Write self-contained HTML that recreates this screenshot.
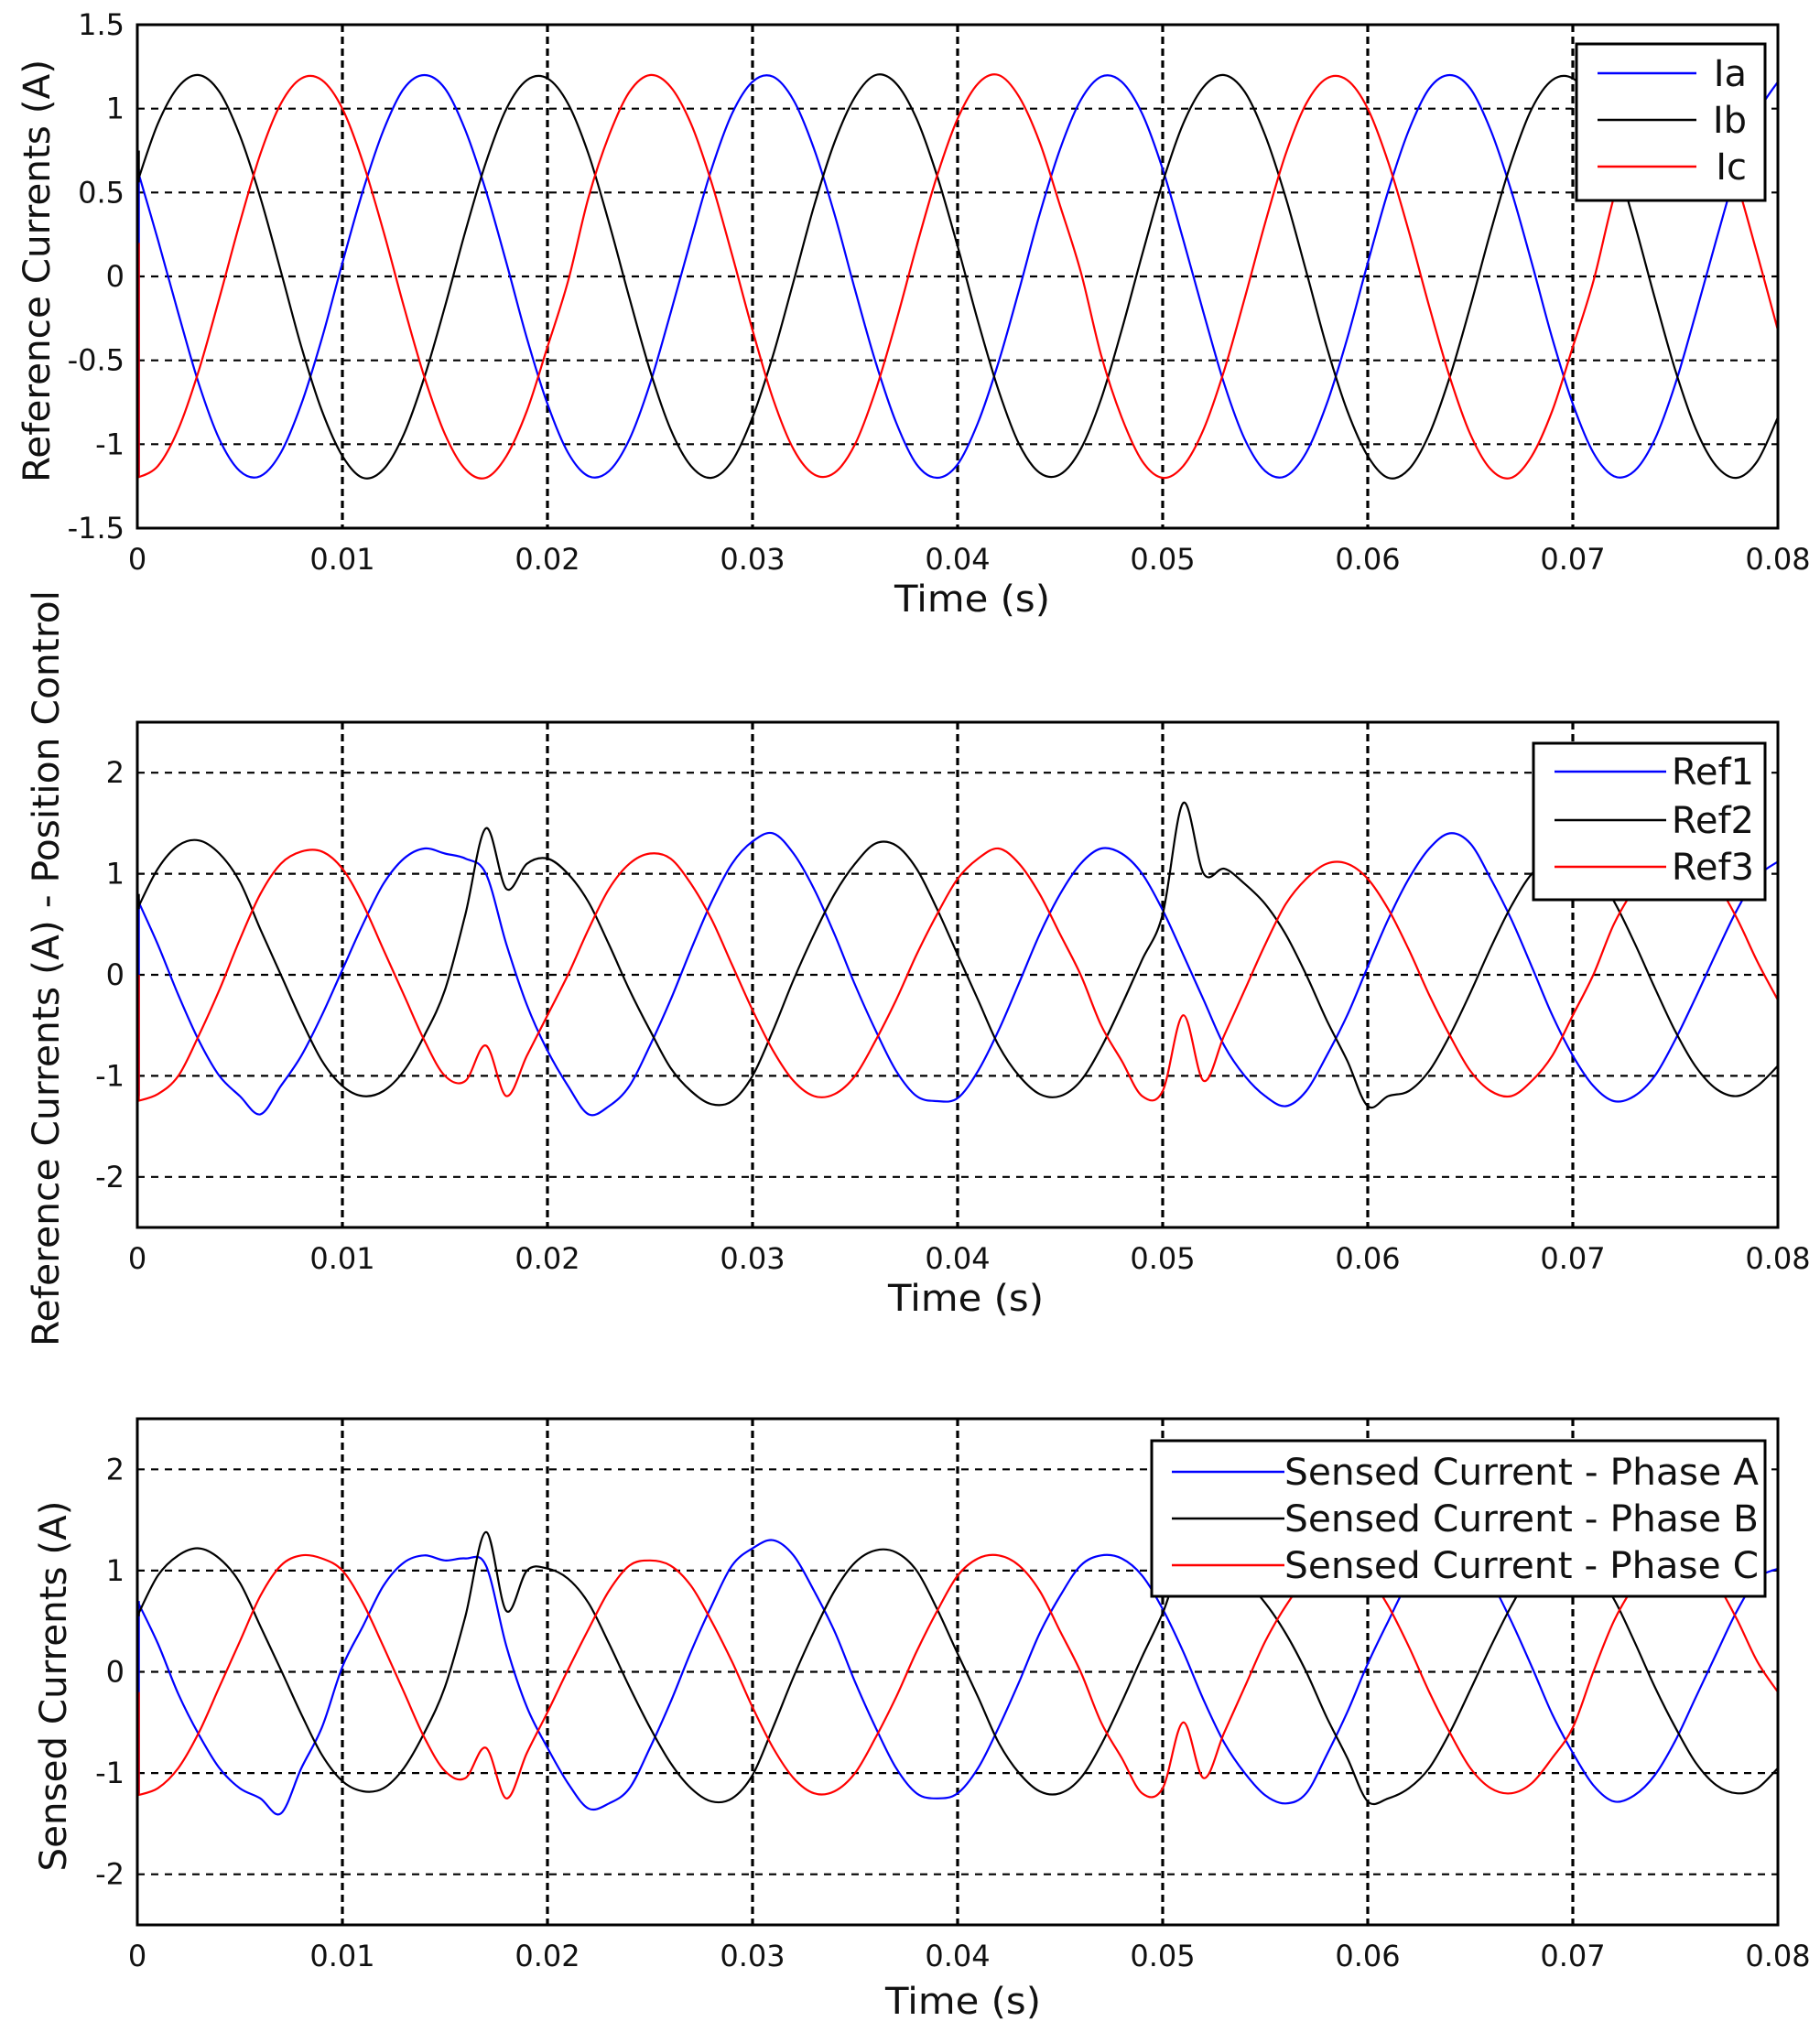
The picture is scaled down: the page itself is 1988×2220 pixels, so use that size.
<!DOCTYPE html>
<html><head><meta charset="utf-8"><title>Reference and sensed currents</title>
<style>
html,body{margin:0;padding:0;background:#fff;}
svg{display:block;}
text{font-family:"DejaVu Sans","Liberation Sans",sans-serif;fill:#111;}
</style></head>
<body>
<svg id="fig" xmlns="http://www.w3.org/2000/svg" width="1988" height="2220" viewBox="0 0 1988 2220"></svg>
<script>
// shared sample times (ms), 1 ms step
const timeMs = [0,1,2,3,4,5,6,7,8,9,10,11,12,13,14,15,16,17,18,19,20,21,22,23,24,25,26,27,28,29,30,31,32,33,34,35,36,37,38,39,40,41,42,43,44,45,46,47,48,49,50,51,52,53,54,55,56,57,58,59,60,61,62,63,64,65,66,67,68,69,70,71,72,73,74,75,76,77,78,79,80];
const xTickLabels = ["0","0.01","0.02","0.03","0.04","0.05","0.06","0.07","0.08"];
const xTickValues = [0,0.01,0.02,0.03,0.04,0.05,0.06,0.07,0.08];
const yTicksTop = [1.5,1,0.5,0,-0.5,-1,-1.5];
const yTicksMid = [2,1,0,-1,-2];

// Panel 1: reference currents
const ia = [0.64,0.22,-0.22,-0.64,-0.97,-1.16,-1.19,-1.05,-0.76,-0.37,0.08,0.51,0.87,1.12,1.20,1.12,0.87,0.51,0.08,-0.37,-0.76,-1.05,-1.19,-1.16,-0.97,
 -0.64,-0.22,0.22,0.64,0.97,1.16,1.19,1.05,0.76,0.37,-0.08,-0.51,-0.87,-1.12,-1.20,-1.12,-0.87,-0.51,-0.08,0.37,0.76,1.05,1.19,1.16,0.97,
 0.64,0.22,-0.22,-0.64,-0.97,-1.16,-1.19,-1.05,-0.76,-0.37,0.08,0.51,0.87,1.12,1.20,1.12,0.87,0.51,0.08,-0.37,-0.76,-1.05,-1.19,-1.16,-0.97,
 -0.64,-0.22,0.22,0.64,0.97,1.16];
const ib = [0.56,0.91,1.13,1.20,1.10,0.84,0.47,0.03,-0.42,-0.80,-1.07,-1.20,-1.15,-0.94,-0.60,-0.18,0.27,0.68,1.00,1.17,1.18,1.03,0.73,0.32,-0.13,
 -0.56,-0.91,-1.13,-1.20,-1.10,-0.84,-0.47,-0.03,0.42,0.80,1.07,1.20,1.15,0.94,0.60,0.18,-0.27,-0.68,-1.00,-1.17,-1.18,-1.03,-0.73,-0.32,0.13,
 0.56,0.91,1.13,1.20,1.10,0.84,0.47,0.03,-0.42,-0.80,-1.07,-1.20,-1.15,-0.94,-0.60,-0.18,0.27,0.68,1.00,1.17,1.18,1.03,0.73,0.32,-0.13,
 -0.56,-0.91,-1.13,-1.20,-1.10,-0.84];
const ic = [-1.20,-1.13,-0.91,-0.56,-0.13,0.32,0.73,1.03,1.18,1.17,1.00,0.68,0.27,-0.18,-0.60,-0.94,-1.15,-1.20,-1.07,-0.80,-0.42,-0.03,0.47,0.84,1.10,
 1.20,1.13,0.91,0.56,0.13,-0.32,-0.73,-1.03,-1.18,-1.17,-1.00,-0.68,-0.27,0.18,0.60,0.94,1.15,1.20,1.07,0.80,0.42,0.03,-0.47,-0.84,-1.10,
 -1.20,-1.13,-0.91,-0.56,-0.13,0.32,0.73,1.03,1.18,1.17,1.00,0.68,0.27,-0.18,-0.60,-0.94,-1.15,-1.20,-1.07,-0.80,-0.42,-0.03,0.47,0.84,1.10,
 1.20,1.13,0.91,0.56,0.13,-0.32];

// Panel 2: position-control reference currents
const ref1 = [0.75,0.30,-0.20,-0.65,-1.00,-1.20,-1.38,-1.10,-0.80,-0.40,0.05,0.50,0.90,1.15,1.25,1.20,1.15,1.00,0.30,-0.30,-0.75,-1.10,-1.38,-1.30,-1.10,
 -0.70,-0.25,0.25,0.72,1.10,1.32,1.40,1.20,0.85,0.40,-0.10,-0.55,-0.95,-1.20,-1.25,-1.22,-0.95,-0.55,-0.08,0.40,0.80,1.10,1.25,1.20,1.00,
 0.64,0.20,-0.25,-0.70,-1.00,-1.20,-1.30,-1.15,-0.80,-0.40,0.08,0.55,0.95,1.25,1.40,1.30,0.95,0.55,0.08,-0.40,-0.80,-1.10,-1.25,-1.20,-1.00,
 -0.64,-0.22,0.22,0.64,0.97,1.12];
const ref2 = [0.65,1.05,1.28,1.33,1.20,0.92,0.45,0.00,-0.45,-0.85,-1.10,-1.20,-1.15,-0.95,-0.60,-0.15,0.60,1.45,0.85,1.10,1.15,1.00,0.72,0.30,-0.15,
 -0.55,-0.92,-1.15,-1.28,-1.25,-1.00,-0.55,-0.05,0.40,0.80,1.10,1.30,1.28,1.05,0.65,0.20,-0.25,-0.70,-1.00,-1.18,-1.20,-1.05,-0.72,-0.30,0.15,
 0.60,1.70,1.00,1.05,0.90,0.70,0.40,0.00,-0.45,-0.85,-1.30,-1.20,-1.15,-0.95,-0.60,-0.18,0.27,0.68,1.00,1.15,1.15,1.03,0.73,0.32,-0.13,
 -0.56,-0.91,-1.13,-1.20,-1.10,-0.90];
const ref3 = [-1.25,-1.18,-1.00,-0.60,-0.15,0.35,0.80,1.10,1.22,1.22,1.05,0.70,0.25,-0.20,-0.65,-1.00,-1.05,-0.70,-1.20,-0.80,-0.40,0.00,0.45,0.85,1.10,
 1.20,1.15,0.90,0.55,0.10,-0.35,-0.75,-1.05,-1.20,-1.18,-1.00,-0.65,-0.25,0.20,0.60,0.95,1.15,1.25,1.10,0.80,0.40,0.00,-0.50,-0.85,-1.20,
 -1.15,-0.40,-1.05,-0.60,-0.15,0.30,0.70,0.95,1.10,1.10,0.95,0.65,0.25,-0.20,-0.60,-0.95,-1.15,-1.20,-1.05,-0.80,-0.40,0.00,0.50,0.85,1.10,
 1.20,1.13,0.91,0.56,0.13,-0.25];

// Panel 3: sensed currents
const senseA = [0.70,0.28,-0.22,-0.62,-0.95,-1.15,-1.25,-1.40,-0.95,-0.55,0.05,0.45,0.85,1.08,1.15,1.10,1.12,1.05,0.25,-0.35,-0.75,-1.10,-1.35,-1.30,-1.15,
 -0.75,-0.30,0.20,0.65,1.05,1.22,1.30,1.15,0.80,0.40,-0.10,-0.55,-0.95,-1.20,-1.25,-1.20,-0.95,-0.55,-0.10,0.38,0.75,1.05,1.15,1.12,0.95,
 0.62,0.20,-0.28,-0.70,-1.00,-1.22,-1.30,-1.20,-0.82,-0.40,0.08,0.50,0.90,1.15,1.28,1.20,0.90,0.50,0.05,-0.42,-0.80,-1.12,-1.28,-1.22,-1.02,
 -0.68,-0.25,0.18,0.60,0.92,1.02];
const senseB = [0.55,0.95,1.15,1.22,1.12,0.88,0.45,0.02,-0.42,-0.82,-1.08,-1.18,-1.15,-0.95,-0.60,-0.15,0.55,1.38,0.60,1.00,1.02,0.92,0.68,0.28,-0.15,
 -0.55,-0.90,-1.15,-1.28,-1.25,-1.02,-0.55,-0.05,0.40,0.80,1.08,1.20,1.18,1.00,0.62,0.18,-0.25,-0.70,-1.00,-1.18,-1.20,-1.05,-0.72,-0.30,0.15,
 0.58,1.10,0.98,1.00,0.90,0.68,0.38,0.00,-0.45,-0.85,-1.28,-1.25,-1.15,-0.95,-0.60,-0.18,0.25,0.65,0.98,1.12,1.12,1.00,0.72,0.30,-0.15,
 -0.55,-0.90,-1.12,-1.20,-1.15,-0.95];
const senseC = [-1.22,-1.15,-0.95,-0.60,-0.15,0.30,0.75,1.05,1.15,1.12,1.00,0.68,0.25,-0.20,-0.65,-0.98,-1.05,-0.75,-1.25,-0.80,-0.40,0.02,0.42,0.80,1.05,
 1.10,1.05,0.85,0.50,0.10,-0.35,-0.75,-1.05,-1.20,-1.18,-1.00,-0.65,-0.25,0.20,0.60,0.95,1.12,1.15,1.05,0.80,0.40,0.00,-0.50,-0.85,-1.20,
 -1.15,-0.50,-1.05,-0.60,-0.15,0.30,0.65,0.92,1.05,1.08,0.95,0.65,0.25,-0.20,-0.60,-0.95,-1.15,-1.20,-1.10,-0.85,-0.55,0.00,0.50,0.85,1.10,
 1.18,1.10,0.88,0.52,0.10,-0.20];

const NS = "http://www.w3.org/2000/svg";
const svg = document.getElementById('fig');
function mk(tag, attrs, parent){
  const e = document.createElementNS(NS, tag);
  for (const k in attrs) e.setAttribute(k, attrs[k]);
  (parent||svg).appendChild(e);
  return e;
}
const X0 = 150, X1 = 1942, TMAX = 0.08;
function xPos(t){ return X0 + (t / TMAX) * (X1 - X0); }

function smoothPath(pts){
  let d = 'M' + pts[0][0].toFixed(1) + ',' + pts[0][1].toFixed(1);
  for (let i = 0; i < pts.length - 1; i++){
    const p0 = pts[i-1] || pts[i], p1 = pts[i], p2 = pts[i+1], p3 = pts[i+2] || p2;
    const c1x = p1[0] + (p2[0]-p0[0])/6, c1y = p1[1] + (p2[1]-p0[1])/6;
    const c2x = p2[0] - (p3[0]-p1[0])/6, c2y = p2[1] - (p3[1]-p1[1])/6;
    d += ' C' + c1x.toFixed(1)+','+c1y.toFixed(1)+' '+c2x.toFixed(1)+','+c2y.toFixed(1)+' '+p2[0].toFixed(1)+','+p2[1].toFixed(1);
  }
  return d;
}

function panel(cfg){
  const g = mk('g', {});
  
  
  const yPos = v => cfg.top + (cfg.ymax - v) / (cfg.ymax - cfg.ymin) * (cfg.bottom - cfg.top);
  const bg = mk('rect', {x:X0, y:cfg.top, width:X1-X0, height:cfg.bottom-cfg.top, fill:'#fff'}, g);
  
  
  cfg.yTicks.forEach(v => {
    const y = yPos(v);
    if (y > cfg.top + 2 && y < cfg.bottom - 2){
      const gl = mk('line', {x1:X0, x2:X1, y1:y, y2:y, stroke:'#000', 'stroke-width':2.2, 'stroke-dasharray':'8,7'}, g);
      
      
    }
    const tl = mk('text', {x:136, y:y+11, 'text-anchor':'end', 'font-size':32}, g);
    
    
    tl.textContent = String(v);
  });
  xTickValues.forEach((t, i) => {
    const x = xPos(t);
    if (i > 0 && i < xTickValues.length - 1){
      const gl = mk('line', {x1:x, x2:x, y1:cfg.top, y2:cfg.bottom, stroke:'#000', 'stroke-width':3.2, 'stroke-dasharray':'8,5'}, g);
      
      
    }
    const tl = mk('text', {x:x, y:cfg.bottom+45, 'text-anchor':'middle', 'font-size':32}, g);
    
    
    tl.textContent = xTickLabels[i];
  });
  cfg.series.forEach(s => {
    const st = mk('line', {x1:xPos(0)+1, x2:xPos(0)+1, y1:yPos(s.start), y2:yPos(s.values[0]), stroke:s.color, 'stroke-width':3.5}, g);
    
    
    const pts = timeMs.map((ms, i) => [xPos(ms/1000), yPos(s.values[i])]);
    const p = mk('path', {d:smoothPath(pts), fill:'none', stroke:s.color, 'stroke-width':2.2, 'stroke-linejoin':'round'}, g);
    
    
  });
  const fr = mk('rect', {x:X0, y:cfg.top, width:X1-X0, height:cfg.bottom-cfg.top, fill:'none', stroke:'#000', 'stroke-width':3}, g);
  
  
  const xt = mk('text', {x:cfg.xTitleX, y:cfg.xTitleY, 'text-anchor':'middle', 'font-size':40, textLength:170, lengthAdjust:'spacingAndGlyphs'}, g);
  
  
  xt.textContent = 'Time (s)';
  const yt = mk('text', {x:0, y:0, 'text-anchor':'middle', 'font-size':40, textLength:cfg.yTitleLen, lengthAdjust:'spacingAndGlyphs', transform:'translate('+cfg.yTitleX+','+cfg.yTitleY+') rotate(-90)'}, g);
  
  
  yt.textContent = cfg.yTitle;
  const L = cfg.legend;
  const lg = mk('g', {}, g);
  
  
  mk('rect', {x:L.x, y:L.y, width:L.w, height:L.h, fill:'#fff', stroke:'#000', 'stroke-width':3}, lg);
  cfg.series.forEach((s, i) => {
    const ry = L.rows[i];
    const ln = mk('line', {x1:L.lx1, x2:L.lx2, y1:ry, y2:ry, stroke:s.color, 'stroke-width':2.5}, lg);
    
    
    const tx = mk('text', {x:L.tx, y:ry+14, 'text-anchor':L.anchor, 'font-size':L.fs}, lg);
    if (L.tlen) { tx.setAttribute('textLength', L.tlen); tx.setAttribute('lengthAdjust', 'spacingAndGlyphs'); }
    
    
    tx.textContent = s.label;
  });
}

panel({
  name:'reference-currents-panel', top:27, bottom:577, ymin:-1.5, ymax:1.5, yTicks:yTicksTop,
  xTitleX:1062, xTitleY:668, yTitle:'Reference Currents (A)', yTitleX:54, yTitleY:296, yTitleLen:462,
  series:[
    {name:'series-ia', label:'Ia', color:'#0000ff', values:ia, start:-1.2},
    {name:'series-ib', label:'Ib', color:'#000000', values:ib, start:0.75},
    {name:'series-ic', label:'Ic', color:'#ff0000', values:ic, start:0.2}
  ],
  legend:{x:1722, y:48, w:206, h:171, rows:[80,131,182], lx1:1745, lx2:1853, tx:1908, anchor:'end', fs:40}
});
panel({
  name:'position-control-panel', top:789, bottom:1341, ymin:-2.5, ymax:2.5, yTicks:yTicksMid,
  xTitleX:1055, xTitleY:1432, yTitle:'Reference Currents (A) - Position Control', yTitleX:64, yTitleY:1058, yTitleLen:826,
  series:[
    {name:'series-ref1', label:'Ref1', color:'#0000ff', values:ref1, start:-1.2},
    {name:'series-ref2', label:'Ref2', color:'#000000', values:ref2, start:0.8},
    {name:'series-ref3', label:'Ref3', color:'#ff0000', values:ref3, start:0.0}
  ],
  legend:{x:1675, y:812, w:253, h:171, rows:[843,896,947], lx1:1698, lx2:1820, tx:1916, anchor:'end', fs:40}
});
panel({
  name:'sensed-currents-panel', top:1550, bottom:2103, ymin:-2.5, ymax:2.5, yTicks:yTicksMid,
  xTitleX:1052, xTitleY:2200, yTitle:'Sensed Currents (A)', yTitleX:72, yTitleY:1842, yTitleLen:405,
  series:[
    {name:'series-phase-a', label:'Sensed Current - Phase A', color:'#0000ff', values:senseA, start:-1.2},
    {name:'series-phase-b', label:'Sensed Current - Phase B', color:'#000000', values:senseB, start:0.6},
    {name:'series-phase-c', label:'Sensed Current - Phase C', color:'#ff0000', values:senseC, start:-0.2}
  ],
  legend:{x:1258, y:1574, w:670, h:170, rows:[1608,1659,1710], lx1:1280, lx2:1403, tx:1403, anchor:'start', fs:40, tlen:518}
});
</script>
</body></html>
